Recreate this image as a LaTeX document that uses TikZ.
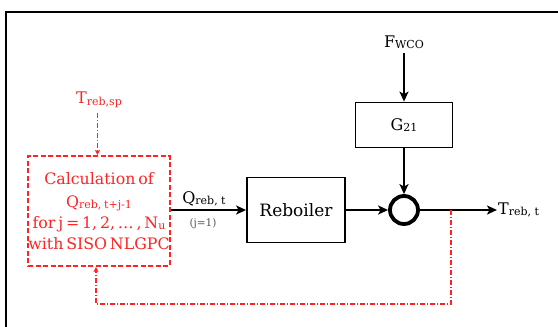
\documentclass[tikz,border=0pt]{standalone}
\usepackage{fontspec}
\setmainfont{DejaVu Serif}
\usetikzlibrary{arrows.meta}
\definecolor{rd}{RGB}{255,35,35}
\definecolor{gr}{RGB}{85,85,85}
\newcommand{\sbx}[1]{\raisebox{-1.5pt}{\fontsize{11}{11}\selectfont #1}}
\newcommand{\calcfont}{\fontsize{15.8}{21}\selectfont\spaceskip=0.18em\relax}
\begin{document}
\begin{tikzpicture}[x=1pt,y=-1pt,
  blk/.style={draw, line width=1.8pt, inner sep=0pt},
  lbl/.style={inner sep=1pt, font=\fontsize{16}{18}\selectfont},
  arr/.style={line width=1.8pt, -{Stealth[length=10pt,width=9pt,inset=2.5pt]}},
  rarr/.style={draw=rd, line width=1.2pt, dash pattern=on 5pt off 2pt on 1pt off 2pt, -{Stealth[length=5pt,width=5pt,inset=1pt]}}
]
\useasboundingbox (0,0) rectangle (558,327);
\clip (0,0) rectangle (558,327);
\draw[line width=1.9pt] (6,340) -- (6,12) -- (570,12);

% controller
\node[blk, draw=rd, dash pattern=on 5pt off 2.5pt, minimum width=140, minimum height=110,
      text=rd, align=center, font=\calcfont] (calc) at (99,211)
  {Calculation of\\[2pt]
   Q\sbx{reb, t+j-1}\\
   for j = 1, 2, \dots\ , N\sbx{u}\\
   with SISO NLGPC};
\node[lbl, text=rd] (tsp) at (99,100) {T\sbx{reb,sp}};
\draw[rarr] (tsp.south -| 97.5,0) ++(0,4) -- (97.5,155);

% plant
\node[blk, minimum width=98, minimum height=65, font=\fontsize{17}{20}\selectfont] (reb) at (296,210) {Reboiler};
\node[blk, minimum width=97, minimum height=45, font=\fontsize{16}{18}\selectfont] (g) at (404,125) {G\sbx{21}};
\node[circle, draw, line width=3.8pt, minimum size=28, inner sep=0pt] (sum) at (404,210) {};
\node[lbl] (f) at (404,42) {F\sbx{WCO}};
\node[lbl, anchor=west] (out) at (497,210) {T\sbx{reb, t}};

\draw[arr] (calc.east |- reb) -- (reb.west);
\node[lbl] (q) at (204,199) {Q\sbx{reb, t}};
\node[inner sep=0pt, text=gr, font=\fontsize{10.5}{12}\selectfont] (j1) at (203,224) {(j=1)};
\draw[arr] (reb.east) -- (sum.west);
\draw[arr] (f.south) ++(0,3) -- (g.north);
\draw[arr] (g.south) -- (sum.north);
\draw[arr] (sum.east) -- (out.west);

% feedback
\coordinate (fb) at (451,210);
\coordinate (fbb) at (451,304);
\coordinate (fbl) at (96,304);
\draw[rarr] (fb) -- (fbb) -- (fbl) -- (fbl |- calc.south);
\end{tikzpicture}
\end{document}
